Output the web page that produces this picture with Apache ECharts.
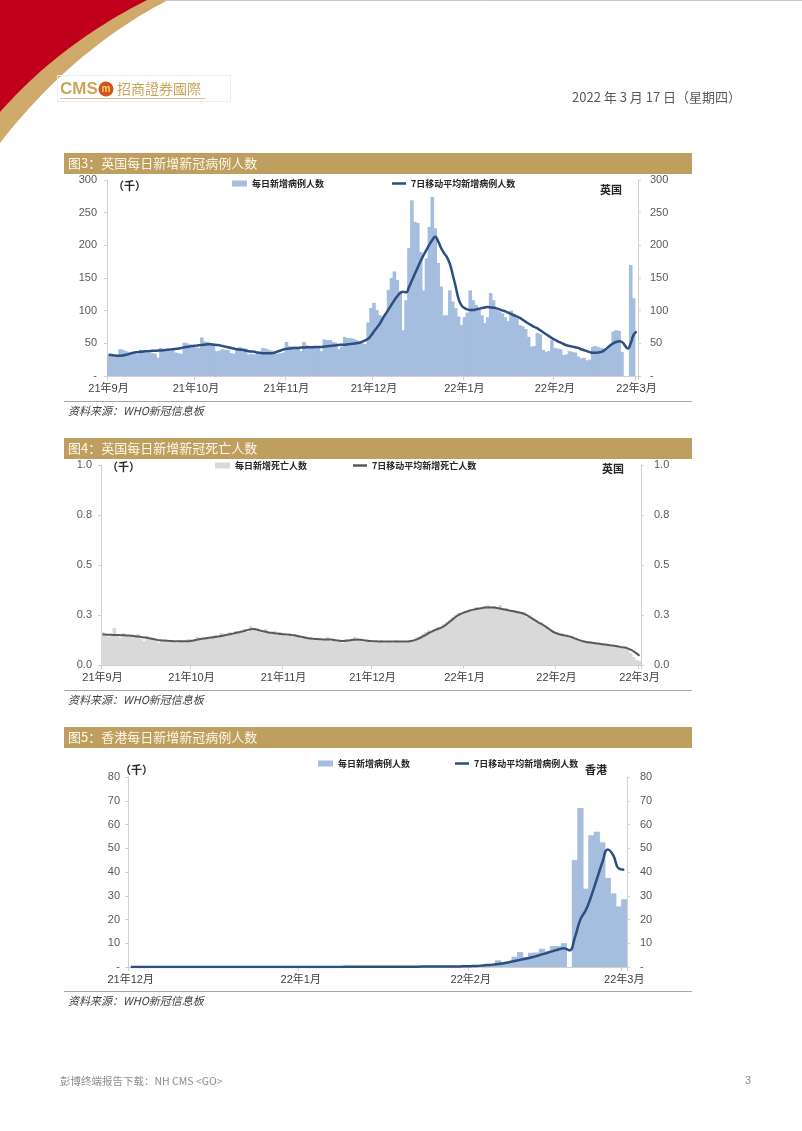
<!DOCTYPE html>
<html><head><meta charset="utf-8">
<script src="https://cdn.jsdelivr.net/npm/echarts@6/dist/echarts.min.js"></script>
<style>html,body{margin:0;padding:0;background:#fff}#c{width:802px;height:1131px}</style>
</head><body><div id="c"></div>
<script>
// ---------------- DATA ----------------
function makeDates(y, m, d, n) {
  const out = [];
  for (let i = 0; i < n; i++) out.push(new Date(Date.UTC(y, m - 1, d + i)).toISOString().slice(0, 10));
  return out;
}
const ukDates = makeDates(2021, 9, 1, 182);   // 2021-09-01 .. 2022-03-01
const hkDates = makeDates(2021, 12, 1, 91);   // 2021-12-01 .. 2022-03-01

// UK daily new cases (thousands)
const ukCasesDaily = [
 31,32,31,30,41,40,38,37,35,34,
 33,40,39,36,35,35,34,28,43,41,
 40,39,40,36,35,34,51,50,48,47,
 44,43,59,53,52,50,49,38,39,41,
 40,40,35,34,43,44,43,42,33,34,
 33,35,36,43,42,40,39,35,34,35,
 36,52,46,45,45,44,38,52,47,46,
 46,45,46,38,56,55,55,52,51,41,
 45,60,58,58,57,55,53,50,49,82,
 104,112,101,93,88,96,132,150,160,147,
 130,70,116,196,269,236,234,190,131,180,
 228,274,226,173,137,93,93,131,114,104,
 91,78,90,97,131,116,109,104,93,81,
 90,127,116,101,99,96,90,84,100,95,
 88,78,76,72,60,45,46,66,64,40,
 37,38,55,43,42,41,32,33,38,37,
 36,30,27,28,24,25,45,46,44,43,
 42,41,47,68,70,69,37,null,null,170,
 119,null
];
// UK 7-day moving average of new cases (thousands)
const ukCasesMA7 = [
 32.5,32,31.5,31,31,31.5,32.5,33.5,35,36,
 36.5,37,37.5,38,38,38.5,38.5,39,39,39.5,
 40,40.5,41,41.5,42,43,44,44.5,45.5,46,
 46.5,47,47.5,48,48.5,48.5,48,47.5,47,46,
 45,44,43,42,41,40.5,40,39,38,37.5,
 37,36,35.5,35,35,35,35,36,37.5,39,
 40.5,41.5,42,42.5,43,43,43.5,43.5,44,44,
 44,44.5,44.5,44.5,45,45.5,46,46.5,47,47.5,
 48,48,48.5,49,49.5,50,51,52.5,54.5,57,
 62,68,74,80,88,95,102,109,116,122,
 127,129,128,136,146,156,166,176,185,193,
 201,208,213,206,196,188,182,172,155,137,
 118,108,104,102,101,101,102,103,104,105,
 105.5,105,104.5,103.5,102,100.5,99,97,95,93,
 91,89,86,83,80,77.5,75,73,70,67,
 64,61,58,55.5,53,51,49,47,46,45,
 44,43,41,39.5,38,36.5,35.5,35.5,36,37,
 39.5,43,47,50,52,53,52,47,42,50,
 63,68
];
// UK daily new deaths (thousands)
const ukDeathsDaily = [
 .165,.150,.140,.155,.185,.150,.135,.160,.150,.145,
 .150,.140,.155,.130,.120,.145,.140,.125,.130,.110,
 .125,.120,.115,.125,.118,.110,.125,.120,.115,.130,
 .120,.125,.140,.125,.135,.140,.130,.145,.150,.135,
 .160,.155,.145,.165,.150,.170,.160,.175,.180,.165,
 .195,.175,.185,.170,.160,.180,.165,.155,.170,.150,
 .165,.150,.145,.160,.140,.155,.150,.135,.145,.130,
 .140,.125,.130,.135,.120,.125,.140,.120,.130,.115,
 .125,.110,.130,.125,.120,.140,.125,.130,.115,.120,
 .125,.110,.120,.115,.125,.110,.120,.115,.110,.125,
 .120,.110,.115,.120,.125,.130,.140,.145,.155,.165,
 .175,.170,.180,.190,.185,.205,.215,.225,.240,.250,
 .260,.250,.270,.265,.280,.275,.290,.285,.280,.295,
 .300,.285,.295,.280,.300,.275,.285,.270,.265,.275,
 .270,.255,.265,.240,.250,.230,.225,.210,.215,.200,
 .190,.180,.170,.165,.150,.160,.150,.145,.140,.135,
 .130,.125,.120,.115,.120,.110,.115,.105,.110,.100,
 .105,.100,.095,.100,.090,.095,.085,.080,.060,.040,
 .025,.020
];
// UK 7-day moving average of new deaths (thousands)
const ukDeathsMA7 = [
 .152,.152,.151,.151,.150,.150,.149,.149,.148,.147,
 .146,.144,.142,.140,.138,.136,.133,.130,.127,.124,
 .123,.122,.121,.120,.119,.119,.119,.119,.119,.119,
 .121,.124,.127,.130,.132,.134,.136,.138,.140,.142,
 .145,.148,.151,.154,.157,.161,.164,.167,.171,.175,
 .179,.180,.177,.173,.169,.166,.163,.161,.159,.157,
 .155,.154,.153,.151,.149,.147,.144,.141,.138,.135,
 .132,.131,.130,.129,.128,.128,.127,.127,.125,.123,
 .121,.120,.121,.123,.125,.126,.127,.126,.124,.122,
 .120,.119,.119,.118,.118,.117,.117,.117,.117,.117,
 .117,.117,.117,.118,.120,.123,.128,.135,.143,.151,
 .160,.167,.174,.180,.186,.193,.204,.216,.228,.240,
 .250,.257,.263,.268,.273,.277,.280,.283,.285,.287,
 .288,.288,.287,.285,.282,.279,.276,.273,.270,.267,
 .264,.261,.256,.249,.240,.231,.222,.212,.204,.195,
 .185,.175,.165,.159,.154,.150,.147,.144,.140,.134,
 .128,.123,.119,.115,.113,.111,.109,.107,.105,.103,
 .101,.099,.097,.095,.092,.089,.087,.083,.077,.068,
 .058,.046
];
// Hong Kong daily new cases (thousands)
const hkCasesDaily = [
 .01,.01,.01,.02,.01,.01,.01,.02,.01,.01,
 .02,.01,.01,.02,.01,.02,.01,.01,.02,.02,
 .01,.02,.02,.03,.02,.02,.03,.02,.03,.03,
 .02,.03,.03,.04,.03,.05,.06,.04,.05,.07,
 .06,.08,.10,.09,.12,.11,.13,.14,.12,.15,
 .16,.14,.18,.17,.15,.19,.20,.22,.25,.28,
 .30,.35,.5,.6,.8,1.0,1.2,2.8,1.6,1.8,
 4.3,6.3,4.2,6.0,6.1,7.7,6.6,8.8,8.8,10.0,
 null,45,67,33,55.5,57,52.5,37.5,31,25.5,
 28.5
];
// Hong Kong 7-day moving average of new cases (thousands)
const hkCasesMA7 = [
 .01,.01,.01,.01,.01,.01,.01,.01,.01,.01,
 .01,.01,.01,.01,.01,.015,.015,.015,.015,.015,
 .02,.02,.02,.02,.02,.02,.025,.025,.025,.025,
 .03,.03,.03,.035,.035,.04,.045,.05,.05,.055,
 .06,.07,.075,.085,.09,.10,.11,.12,.125,.13,
 .14,.15,.155,.16,.165,.17,.18,.19,.21,.23,
 .26,.30,.36,.45,.6,.8,1.0,1.3,1.6,2.0,
 2.5,3.0,3.5,4.0,4.6,5.3,6.0,6.7,7.4,7.9,
 7.0,12.5,20,24,30,37,44,49.5,47,41.5,
 41
];

const ukYTicks = {max: 300, interval: 50};
const deathYTicks = {max: 1.0, interval: 0.25};
const hkYTicks = {max: 80, interval: 10};

// ---------------- STYLE ----------------
const NUM = "'Liberation Sans', 'Noto Sans CJK SC', sans-serif";
const CJK = "'Noto Sans CJK SC', 'Liberation Sans', sans-serif";
const BAR_BLUE = '#A5BDDF';
const LINE_BLUE = '#2C4E80';
const BAR_GRAY = '#D9D9D9';
const LINE_GRAY = '#595959';
const GOLD = '#BF9F5F';
const AX = '#D0D0D0';

function monthLabel(v) { return v.slice(2, 4) + '年' + (+v.slice(5, 7)) + '月'; }
const isFirst = (i, v) => v.slice(8) === '01';
function xAxis(gi, dates) {
  return {type: 'category', gridIndex: gi, data: dates, boundaryGap: true,
    axisLine: {show: true, lineStyle: {color: AX}},
    axisTick: {show: true, interval: isFirst, length: 4, lineStyle: {color: AX}},
    axisLabel: {interval: isFirst, formatter: monthLabel, margin: 7, color: '#404040', fontSize: 11, fontFamily: NUM},
    splitLine: {show: false}};
}
function yAxes(gi, t, fmt, ml, mr) {
  const mk = (pos, m) => ({type: 'value', gridIndex: gi, position: pos, min: 0, max: t.max, interval: t.interval,
    splitLine: {show: false},
    axisLine: {show: true, lineStyle: {color: AX}},
    axisTick: {show: true, length: 3, lineStyle: {color: AX}},
    axisLabel: {formatter: fmt, margin: m, color: '#595959', fontSize: 11, fontFamily: NUM}});
  return [mk('left', ml), mk('right', mr)];
}
const dashZero = v => v === 0 ? '-' : String(v);
const oneDec = v => v.toFixed(1);

const legText = {fontSize: 9, fontWeight: 'bold', color: '#262626', fontFamily: CJK};
function legend(left, top, name, isLine, color) {
  return {left, top, padding: 0, orient: 'horizontal', data: [name], icon: 'rect',
    itemWidth: isLine ? 14 : 15, itemHeight: isLine ? 2.5 : 6, itemGap: 0,
    itemStyle: {color, borderWidth: 0}, textStyle: legText, selectedMode: false};
}
function barStyle(color) { return {color}; }

// decorative swoosh polygons
function quad(p0, c, p1, n) {
  const pts = [];
  for (let i = 0; i <= n; i++) {
    const t = i / n, a = (1 - t) * (1 - t), b = 2 * (1 - t) * t, d = t * t;
    pts.push([a * p0[0] + b * c[0] + d * p1[0], a * p0[1] + b * c[1] + d * p1[1]]);
  }
  return pts;
}
const goldPts = [[0, 0]].concat(quad([168, 0], [72, 50], [0, 143], 30));
const redPts = [[0, 0]].concat(quad([147, 0], [60, 44], [0, 112], 30));

function txt(x, y, text, o) {
  return Object.assign({type: 'text', x, y, silent: true,
    style: Object.assign({text, fill: '#262626', fontSize: 11, fontFamily: CJK, verticalAlign: 'middle', align: 'left'}, o || {})});
}
function rule(y) { return {type: 'line', silent: true, shape: {x1: 64, y1: y, x2: 692, y2: y}, style: {stroke: '#A6A6A6', lineWidth: 1}}; }
function titleBar(y, text) {
  return [{type: 'rect', silent: true, shape: {x: 64, y: y, width: 628, height: 21}, style: {fill: GOLD}},
          txt(68, y + 10.5, text, {fill: '#FBF6EA', fontSize: 13})];
}
function source(y) { return txt(68, y, '资料来源：WHO新冠信息板', {fontStyle: 'italic', fontSize: 11, fill: '#404040'}); }

const graphics = [
  {type: 'polygon', silent: true, shape: {points: goldPts}, style: {fill: '#CFAA6A'}},
  {type: 'polygon', silent: true, shape: {points: redPts}, style: {fill: '#C0001A'}},
  {type: 'line', silent: true, shape: {x1: 165, y1: 0.5, x2: 802, y2: 0.5}, style: {stroke: '#C8C8C8', lineWidth: 1}},
  {type: 'rect', silent: true, shape: {x: 57.5, y: 75.5, width: 173, height: 26}, style: {fill: 'none', stroke: '#EDEDED', lineWidth: 1}},
  txt(60, 89, 'CMS', {fill: '#C9A45C', fontSize: 17, fontWeight: 'bold', fontFamily: NUM}),
  {type: 'circle', silent: true, shape: {cx: 106, cy: 89, r: 7.5}, style: {fill: '#D4501C'}},
  txt(106, 89, 'm', {fill: '#F8D56C', fontSize: 10, fontWeight: 'bold', fontFamily: NUM, align: 'center'}),
  txt(117, 89, '招商證券國際', {fill: '#C9A45C', fontSize: 14, fontFamily: "'Noto Sans CJK TC', sans-serif"}),
  {type: 'line', silent: true, shape: {x1: 60, y1: 98.5, x2: 205, y2: 98.5}, style: {stroke: '#D8BE86', lineWidth: 1}},
  txt(572, 97, '2022 年 3 月 17 日（星期四）', {fill: '#595959', fontSize: 13}),
  ...titleBar(153, '图3：英国每日新增新冠病例人数'),
  ...titleBar(438, '图4：英国每日新增新冠死亡人数'),
  ...titleBar(727, '图5：香港每日新增新冠病例人数'),
  txt(113, 186, '（千）', {fontSize: 11, fontWeight: 'bold'}),
  txt(600, 190, '英国', {fontSize: 11, fontWeight: 'bold'}),
  txt(107, 467, '（千）', {fontSize: 11, fontWeight: 'bold'}),
  txt(602, 469, '英国', {fontSize: 11, fontWeight: 'bold'}),
  txt(120, 770, '（千）', {fontSize: 11, fontWeight: 'bold'}),
  txt(585, 770, '香港', {fontSize: 11, fontWeight: 'bold'}),
  rule(401.5), source(411),
  rule(690.5), source(700),
  rule(991.5), source(1001),
  txt(60, 1081, '彭博终端报告下载：NH CMS <GO>', {fill: '#8C8C8C', fontSize: 10.5}),
  txt(745, 1081, '3', {fill: '#8C8C8C', fontSize: 11, fontFamily: NUM})
];

const option = {
  animation: false,
  backgroundColor: '#fff',
  grid: [
    {left: 107, top: 180, width: 531, height: 196},
    {left: 101, top: 465, width: 540, height: 200},
    {left: 128, top: 777, width: 499, height: 190}
  ],
  xAxis: [xAxis(0, ukDates), xAxis(1, ukDates), xAxis(2, hkDates)],
  yAxis: [
    ...yAxes(0, ukYTicks, dashZero, 10, 12),
    ...yAxes(1, deathYTicks, oneDec, 9, 13),
    ...yAxes(2, hkYTicks, dashZero, 8, 13)
  ],
  legend: [
    legend(232, 179, '每日新增病例人数', false, BAR_BLUE),
    legend(392, 179, '7日移动平均新增病例人数', true, LINE_BLUE),
    legend(215, 461, '每日新增死亡人数', false, BAR_GRAY),
    legend(353, 461, '7日移动平均新增死亡人数', true, LINE_GRAY),
    legend(318, 759, '每日新增病例人数', false, BAR_BLUE),
    legend(455, 759, '7日移动平均新增病例人数', true, LINE_BLUE)
  ],
  series: [
    {name: '每日新增病例人数', type: 'bar', xAxisIndex: 0, yAxisIndex: 0, data: ukCasesDaily,
     barWidth: 3.6, itemStyle: barStyle(BAR_BLUE)},
    {name: '7日移动平均新增病例人数', type: 'line', xAxisIndex: 0, yAxisIndex: 0, data: ukCasesMA7,
     showSymbol: false, smooth: true, itemStyle: {color: LINE_BLUE}, lineStyle: {color: LINE_BLUE, width: 2.5}},
    {name: '每日新增死亡人数', type: 'bar', xAxisIndex: 1, yAxisIndex: 2, data: ukDeathsDaily,
     barWidth: 3.6, itemStyle: barStyle(BAR_GRAY)},
    {name: '7日移动平均新增死亡人数', type: 'line', xAxisIndex: 1, yAxisIndex: 2, data: ukDeathsMA7,
     showSymbol: false, smooth: true, itemStyle: {color: LINE_GRAY}, lineStyle: {color: LINE_GRAY, width: 2}},
    {name: '每日新增病例人数', type: 'bar', xAxisIndex: 2, yAxisIndex: 4, data: hkCasesDaily,
     barWidth: 6.2, itemStyle: barStyle(BAR_BLUE)},
    {name: '7日移动平均新增病例人数', type: 'line', xAxisIndex: 2, yAxisIndex: 4, data: hkCasesMA7,
     showSymbol: false, smooth: true, itemStyle: {color: LINE_BLUE}, lineStyle: {color: LINE_BLUE, width: 2.5}}
  ],
  graphic: graphics
};
const chart = echarts.init(document.getElementById('c'), null, {renderer: 'canvas', width: 802, height: 1131});
chart.setOption(option);
</script></body></html>
